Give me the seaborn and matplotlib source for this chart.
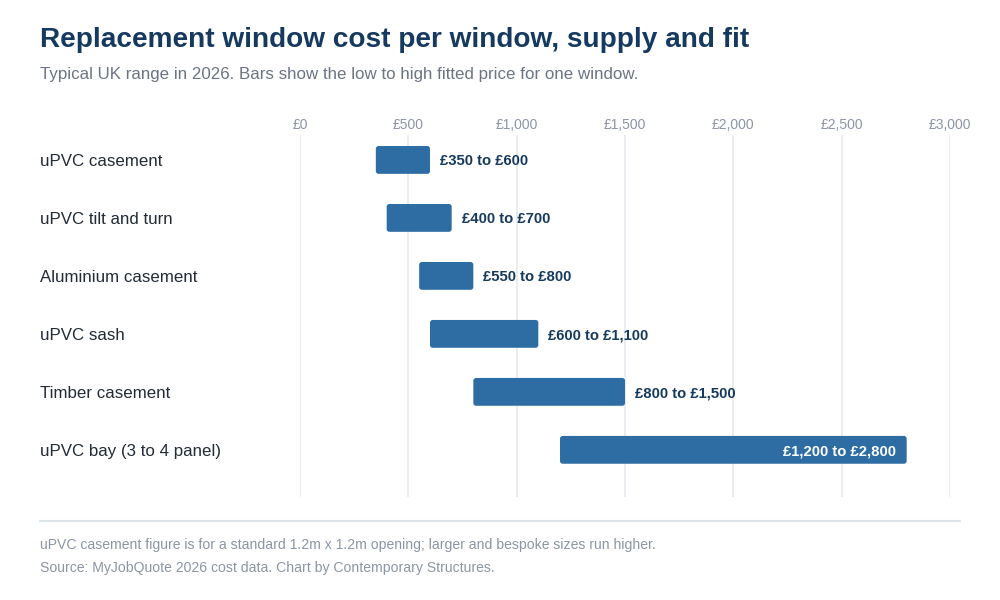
import numpy as np
import pandas as pd
import matplotlib
matplotlib.use("Agg")
import matplotlib.pyplot as plt
from matplotlib.patches import FancyBboxPatch
import seaborn as sns

# Data
windows = ["uPVC casement", "uPVC tilt and turn", "Aluminium casement",
           "uPVC sash", "Timber casement", "uPVC bay (3 to 4 panel)"]
low = [350, 400, 550, 600, 800, 1200]
high = [600, 700, 800, 1100, 1500, 2800]
ticks = [0, 500, 1000, 1500, 2000, 2500, 3000]
tick_labels = ["£0", "£500", "£1,000", "£1,500", "£2,000", "£2,500", "£3,000"]

df = pd.DataFrame({"window": windows, "low": low, "high": high})
df["span"] = df["high"] - df["low"]
df["label"] = [f"£{a:,} to £{b:,}" for a, b in zip(low, high)]

sns.set_theme(style="white")
plt.rcParams["font.family"] = ["Liberation Sans", "DejaVu Sans"]

NAVY = "#163a5f"
BAR = "#2e6da4"
GREY = "#8b95a5"

fig = plt.figure(figsize=(10, 6), dpi=100)
ax = fig.add_axes([0.30, 0.172, 0.65, 0.603])

sns.barplot(data=df, x="span", y="window", color=BAR, width=0.48,
            saturation=1, ax=ax, zorder=3)

# shift bars to start at the low price and round the corners
bars = list(ax.patches)
for p, lo in zip(bars, df["low"]):
    x0, y0, w, h = lo, p.get_y(), p.get_width(), p.get_height()
    p.remove()
    fb = FancyBboxPatch((x0, y0), w, h,
                        boxstyle="round,pad=0,rounding_size=13",
                        mutation_aspect=0.0036,
                        facecolor=BAR, edgecolor="none", zorder=3)
    ax.add_patch(fb)

ax.set_xlim(0, 3000)
ax.set_ylim(5.81, -0.43)
ax.set_xticks(ticks)
ax.set_xticklabels(tick_labels)
ax.xaxis.tick_top()
ax.tick_params(axis="x", length=0, pad=2.5, labelsize=10, labelcolor=GREY)
ax.tick_params(axis="y", length=0)
ax.set_yticklabels([])
ax.set_xlabel("")
ax.set_ylabel("")
ax.grid(axis="x", color="#e8eaf0", linewidth=1.3, zorder=0)
for s in ax.spines.values():
    s.set_visible(False)

# category names on the left
for i, name in enumerate(windows):
    ax.annotate(name, (0, i), xytext=(-260, -1.5), textcoords="offset pixels",
                ha="left", va="center", fontsize=12.2, color="#222b36")

# range labels
for i, row in df.iterrows():
    if i == len(df) - 1:
        ax.annotate(row["label"], (row["high"], i), xytext=(-11, -1.5),
                    textcoords="offset pixels", ha="right", va="center",
                    fontsize=10.7, fontweight="bold", color="white", zorder=4)
    else:
        ax.annotate(row["label"], (row["high"], i), xytext=(10, -1.5),
                    textcoords="offset pixels", ha="left", va="center",
                    fontsize=10.7, fontweight="bold", color=NAVY, zorder=4)

fig.text(0.04, 1 - 40 / 600, "Replacement window cost per window, supply and fit",
         fontsize=20.2, fontweight="bold", color=NAVY, ha="left", va="center")
fig.text(0.04, 1 - 74 / 600, "Typical UK range in 2026. Bars show the low to high fitted price for one window.",
         fontsize=12.2, color="#6b7482", ha="left", va="center")

fig.add_artist(plt.Line2D([0.04, 0.96], [1 - 521 / 600] * 2, color="#dde4e8",
                          linewidth=1.5))
fig.text(0.04, 1 - 545 / 600,
         "uPVC casement figure is for a standard 1.2m x 1.2m opening; larger and bespoke sizes run higher.",
         fontsize=10.1, color=GREY, ha="left", va="center")
fig.text(0.04, 1 - 568 / 600,
         "Source: MyJobQuote 2026 cost data. Chart by Contemporary Structures.",
         fontsize=10.1, color=GREY, ha="left", va="center")

fig.savefig("out.png", dpi=100, facecolor="white")
